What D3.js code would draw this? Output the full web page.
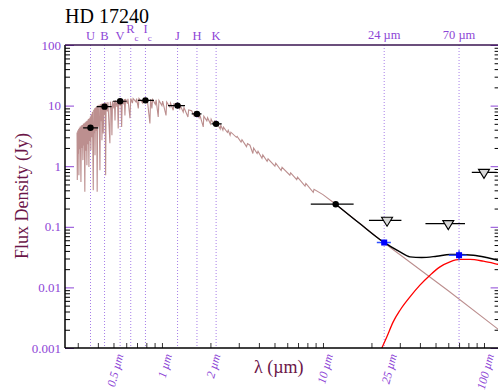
<!DOCTYPE html>
<html>
<head>
<meta charset="utf-8">
<script src="https://cdn.jsdelivr.net/npm/d3@7"></script>
<style>
  body { margin: 0; background: #fff; }
  svg { display: block; font-family: "Liberation Serif", "Times New Roman", serif; }
</style>
</head>
<body>
<div id="chart"></div>
<script>
// photometric bands along the top
var bandNames = ["U", "B", "V", "R", "I", "J", "H", "K"];
var bandSubs = ["", "", "", "c", "c", "", "", ""];
var bandWave = [0.36, 0.44, 0.55, 0.64, 0.79, 1.25, 1.65, 2.17];
var farNames = ["24 \u00b5m", "70 \u00b5m"];
var farWave = [24, 70];

// detections (black circles)
var photWave = [0.36, 0.44, 0.55, 0.79, 1.25, 1.65, 2.17, 12];
var photFlux = [4.3, 9.6, 11.8, 12.2, 10.0, 7.3, 5.0, 0.236];
var photLo = [0.324, 0.393, 0.496, 0.709, 1.09, 1.53, 2.03, 8.4];
var photHi = [0.402, 0.487, 0.603, 0.892, 1.39, 1.76, 2.35, 15.5];

// MIPS points (blue squares)
var mipsWave = [24, 70];
var mipsFlux = [0.055, 0.034];
var mipsLo = [21.6, 60.5];
var mipsHi = [26.4, 78];
var mipsFluxLo = [0.050, 0.028];
var mipsFluxHi = [0.061, 0.041];

// upper limits (triangles)
var limWave = [25, 60, 100];
var limFlux = [0.128, 0.113, 0.79];
var limLo = [19.3, 43.3, 84];
var limHi = [30.7, 76.2, 120];

// stellar photosphere spectrum (continuum with absorption spikes)
var specWave = [0.297, 0.298, 0.300, 0.302, 0.304, 0.305, 0.307, 0.309, 0.311, 0.314, 0.316, 0.318,
  0.320, 0.323, 0.325, 0.327, 0.329, 0.332, 0.334, 0.337, 0.339, 0.342, 0.344, 0.347, 0.349, 0.352,
  0.354, 0.357, 0.359, 0.362, 0.364, 0.367, 0.370, 0.3745, 0.377, 0.380, 0.382, 0.384, 0.387, 0.390,
  0.393, 0.396, 0.399, 0.403, 0.407, 0.412, 0.415, 0.419, 0.422, 0.424, 0.427, 0.432, 0.436, 0.441,
  0.444, 0.447, 0.450, 0.458, 0.462, 0.475, 0.478, 0.486, 0.489, 0.493, 0.503, 0.507, 0.511, 0.515,
  0.526, 0.530, 0.535, 0.540, 0.552, 0.556, 0.562, 0.567, 0.580, 0.584, 0.589, 0.594, 0.610, 0.615,
  0.633, 0.640, 0.656, 0.662, 0.690, 0.696, 0.713, 0.720, 0.760, 0.768, 0.800, 0.810, 0.842, 0.850,
  0.866, 0.875, 0.910, 0.920, 0.948, 0.958, 1.000, 1.010, 1.060, 1.070, 1.120, 1.130, 1.175, 1.186,
  1.250, 1.290, 1.302, 1.356, 1.370, 1.450, 1.465, 1.530, 1.580, 1.595, 1.640, 1.700, 1.715, 1.805,
  1.820, 1.900, 1.920, 2.000, 2.020, 2.100, 2.120, 2.190, 2.300, 2.320, 2.390, 2.410, 2.550, 2.580,
  2.650, 2.680, 2.900, 2.930, 3.100, 3.140, 3.350, 3.400, 3.520, 3.670, 3.710, 3.900, 3.950, 4.180,
  4.230, 4.500, 4.560, 5.030, 5.090, 5.500, 5.570, 6.230, 6.300, 6.870, 6.950, 7.740, 7.830, 8.700,
  8.800, 10, 12, 23.8, 60, 130];
var specFlux = [3.6, 0.59, 3.9, 1.6, 4.1, 0.71, 4.3, 1.9, 4.5, 0.55, 4.7, 2.0,
  4.8, 1.26, 5.0, 2.2, 5.1, 0.38, 5.3, 1.8, 5.5, 1.04, 5.7, 2.3, 6.0, 0.97,
  6.2, 2.6, 6.6, 1.84, 7.2, 3.0, 7.9, 0.40, 8.5, 3.5, 9.0, 1.52, 9.3, 3.8,
  9.6, 0.38, 10.0, 4.5, 10.3, 0.86, 10.5, 5.5, 10.7, 2.69, 10.8, 3.46, 11.0, 7.0,
  11.1, 0.71, 11.2, 8.0, 11.4, 2.4, 11.6, 8.5, 3.25, 11.8, 9.0, 12.0, 5.7, 12.2,
  9.5, 12.4, 4.2, 12.5, 10.0, 12.6, 4.45, 12.7, 10.5, 12.8, 6.9, 12.9, 10.8, 13.0,
  6.2, 13.1, 11.0, 13.1, 11.5, 13.1, 8.96, 13.1, 11.0, 13.0, 11.5, 12.9, 5.06, 12.8,
  9.0, 12.6, 10.5, 12.4, 6.5, 12.2, 10.0, 11.9, 6.9, 11.5, 9.5, 11.0, 8.4, 10.7,
  10.2, 8.8, 9.9, 7.8, 9.3, 6.5, 8.5, 8.2, 6.8, 7.9, 7.6, 6.3, 7.2, 4.45,
  6.7, 5.6, 6.3, 5.0, 6.0, 4.8, 5.6, 5.26, 4.1, 4.73, 3.93, 4.42, 3.6, 3.9,
  3.25, 3.64, 3.0, 3.1, 2.5, 2.73, 2.1, 2.36, 2.22, 1.62, 2.0, 1.62, 1.76, 1.35,
  1.54, 1.2, 1.32, 1.0, 1.12, 0.85, 0.96, 0.71, 0.775, 0.6, 0.66, 0.47, 0.52, 0.37,
  0.415, 0.34, 0.236, 0.055, 0.0088, 0.0018];

// total model (black)
var totalWave = [12, 17, 23.7, 30.1, 34.7, 41, 50.8, 61.5, 69.2, 85.9, 104, 122, 130];
var totalFlux = [0.236, 0.112, 0.0563, 0.0385, 0.0319, 0.0311, 0.0327, 0.0349, 0.0349, 0.034, 0.0311, 0.0281, 0.027];

// dust component (red)
var dustWave = [23.0, 24.9, 27.3, 30.1, 34.7, 40, 46.2, 53.3, 61.5, 71, 81.9, 99, 122, 130];
var dustFlux = [0.00095, 0.00152, 0.0027, 0.0042, 0.00697, 0.0109, 0.0159, 0.0218, 0.0264, 0.0289, 0.0289, 0.0271, 0.0241, 0.0232];

var yMajor = [100, 10, 1, 0.1, 0.01, 0.001];
var yMajorLabels = ["100", "10", "1", "0.1", "0.01", "0.001"];
var xLabelWave = [0.5, 1, 2, 10, 25, 100];
var xLabels = ["0.5 \u00b5m", "1 \u00b5m", "2 \u00b5m", "10 \u00b5m", "25 \u00b5m", "100 \u00b5m"];

var width = 498, height = 392;
var plotLeft = 65, plotRight = 499.6, plotTop = 45, plotBottom = 348;
var purple = "#8d45d6";
var maroon = "#6b1548";

var x = d3.scaleLog().domain([0.25, 125]).range([plotLeft, plotRight]);
var y = d3.scaleLog().domain([0.001, 100]).range([plotBottom, plotTop]);

var svg = d3.select("#chart").append("svg")
  .attr("width", width).attr("height", height);

svg.append("defs").append("clipPath").attr("id", "plot")
  .append("rect").attr("x", plotLeft).attr("y", plotTop)
  .attr("width", plotRight - plotLeft).attr("height", plotBottom - plotTop);

// dotted filter lines
var vlines = bandWave.concat(farWave);
svg.selectAll(".vline").data(vlines).enter().append("line")
  .attr("x1", function (d) { return x(d); }).attr("x2", function (d) { return x(d); })
  .attr("y1", plotTop).attr("y2", plotBottom)
  .attr("stroke", "#a77ee8").attr("stroke-width", 1)
  .attr("stroke-dasharray", "1,2");

var plot = svg.append("g").attr("clip-path", "url(#plot)");

var line = d3.line()
  .x(function (d) { return x(d[0]); })
  .y(function (d) { return y(d[1]); });
var smooth = d3.line()
  .x(function (d) { return x(d[0]); })
  .y(function (d) { return y(d[1]); })
  .curve(d3.curveMonotoneX);

plot.append("path").datum(d3.zip(specWave, specFlux))
  .attr("d", line).attr("fill", "none")
  .attr("stroke", "#bc8f8f").attr("stroke-width", 1.1)
  .attr("stroke-linejoin", "miter");

plot.append("path").datum(d3.zip(dustWave, dustFlux))
  .attr("d", smooth).attr("fill", "none")
  .attr("stroke", "#ff0000").attr("stroke-width", 1.3);

plot.append("path").datum(d3.zip(totalWave, totalFlux))
  .attr("d", smooth).attr("fill", "none")
  .attr("stroke", "#000").attr("stroke-width", 1.4);

// error bars + circles
photWave.forEach(function (w, i) {
  plot.append("line")
    .attr("x1", x(photLo[i])).attr("x2", x(photHi[i]))
    .attr("y1", y(photFlux[i])).attr("y2", y(photFlux[i]))
    .attr("stroke", "#000").attr("stroke-width", 1.2);
  plot.append("circle")
    .attr("cx", x(w)).attr("cy", y(photFlux[i])).attr("r", 3.2)
    .attr("fill", "#000");
});

mipsWave.forEach(function (w, i) {
  plot.append("line")
    .attr("x1", x(mipsLo[i])).attr("x2", x(mipsHi[i]))
    .attr("y1", y(mipsFlux[i])).attr("y2", y(mipsFlux[i]))
    .attr("stroke", "#3050ff").attr("stroke-width", 1.5);
  plot.append("line")
    .attr("x1", x(w)).attr("x2", x(w))
    .attr("y1", y(mipsFluxLo[i])).attr("y2", y(mipsFluxHi[i]))
    .attr("stroke", "#3050ff").attr("stroke-width", 1.5);
  plot.append("rect")
    .attr("x", x(w) - 3).attr("y", y(mipsFlux[i]) - 3)
    .attr("width", 6).attr("height", 6).attr("fill", "#0000ff");
});

limWave.forEach(function (w, i) {
  var cx = x(w), cy = y(limFlux[i]);
  plot.append("line")
    .attr("x1", x(limLo[i])).attr("x2", x(limHi[i]))
    .attr("y1", cy).attr("y2", cy)
    .attr("stroke", "#000").attr("stroke-width", 1.2);
  plot.append("path")
    .attr("d", "M" + (cx - 5.5) + "," + (cy - 3) + "L" + (cx + 5.5) + "," + (cy - 3) + "L" + cx + "," + (cy + 6) + "Z")
    .attr("fill", "#d8d8d8").attr("stroke", "#000").attr("stroke-width", 1.1);
});

// minor tick values
var yMinor = [];
[0.001, 0.01, 0.1, 1, 10].forEach(function (d) {
  for (var k = 2; k <= 9; k++) yMinor.push(d * k);
});
var xMinor = [];
[0.1, 1, 10, 100].forEach(function (d) {
  for (var k = 1; k <= 9; k++) {
    var v = d * k;
    if (v >= 0.25 && v <= 125) xMinor.push(v);
  }
});

function styleAxis(g, colour) {
  g.select(".domain").remove();
  g.selectAll(".tick line").attr("stroke", colour);
  g.selectAll(".tick text").remove();
}

// left axis
svg.append("g").attr("transform", "translate(" + plotLeft + ",0)")
  .call(d3.axisLeft(y).tickValues(yMinor).tickSize(-5))
  .call(styleAxis, "#000");
svg.append("g").attr("transform", "translate(" + plotLeft + ",0)")
  .call(d3.axisLeft(y).tickValues(yMajor).tickSize(-9))
  .call(styleAxis, purple);
// right axis
svg.append("g").attr("transform", "translate(" + plotRight + ",0)")
  .call(d3.axisRight(y).tickValues(yMinor).tickSize(-5))
  .call(styleAxis, "#000");
svg.append("g").attr("transform", "translate(" + plotRight + ",0)")
  .call(d3.axisRight(y).tickValues(yMajor).tickSize(-9))
  .call(styleAxis, purple);
// bottom axis
svg.append("g").attr("transform", "translate(0," + plotBottom + ")")
  .call(d3.axisBottom(x).tickValues(xMinor).tickSize(-5))
  .call(styleAxis, "#333");

// frame lines
svg.append("line").attr("x1", plotLeft).attr("x2", plotLeft).attr("y1", plotTop).attr("y2", plotBottom)
  .attr("stroke", "#000").attr("stroke-width", 1.5);
svg.append("line").attr("x1", plotLeft).attr("x2", width).attr("y1", plotBottom).attr("y2", plotBottom)
  .attr("stroke", "#000").attr("stroke-width", 1.5);
svg.append("line").attr("x1", plotLeft).attr("x2", width).attr("y1", plotTop).attr("y2", plotTop)
  .attr("stroke", "#3a1450").attr("stroke-width", 1.5);

// y tick labels
svg.selectAll(".ylab").data(yMajor).enter().append("text")
  .attr("x", plotLeft - 4).attr("y", function (d) { return y(d) + 4.5; })
  .attr("text-anchor", "end").attr("font-size", 13).attr("fill", purple)
  .text(function (d, i) { return yMajorLabels[i]; });

// x tick labels (rotated)
xLabelWave.forEach(function (w, i) {
  var tx = x(w) + 10, ty = 355;
  svg.append("text")
    .attr("transform", "translate(" + tx + "," + ty + ") rotate(-75)")
    .attr("text-anchor", "end").attr("font-size", 12).attr("font-style", "italic")
    .attr("fill", purple).text(xLabels[i]);
});

// band labels; R and I sit a little higher with a subscript c
bandWave.forEach(function (w, i) {
  var sub = bandSubs[i];
  var t = svg.append("text")
    .attr("x", sub ? x(w) - (bandNames[i] === "R" ? 4.5 : 2) : x(w))
    .attr("y", sub ? 33 : 40)
    .attr("text-anchor", sub ? "start" : "middle")
    .attr("font-size", 12.5).attr("fill", purple);
  t.append("tspan").text(bandNames[i]);
  if (sub) {
    t.append("tspan").attr("dy", 8).attr("font-size", 9).text(sub);
  }
});
farWave.forEach(function (w, i) {
  svg.append("text")
    .attr("x", x(w)).attr("y", 38.5)
    .attr("text-anchor", "middle").attr("font-size", 12.5).attr("fill", purple)
    .text(farNames[i]);
});

// title and axis titles
svg.append("text").attr("x", plotLeft).attr("y", 23)
  .attr("font-size", 20).attr("fill", "#000").text("HD 17240");

svg.append("text")
  .attr("transform", "translate(28,196) rotate(-90)")
  .attr("text-anchor", "middle").attr("font-size", 18).attr("fill", maroon)
  .text("Flux Density (Jy)");

svg.append("text").attr("x", 254).attr("y", 373)
  .attr("font-size", 18).attr("fill", maroon)
  .text("\u03bb (\u00b5m)");
</script>
</body>
</html>
